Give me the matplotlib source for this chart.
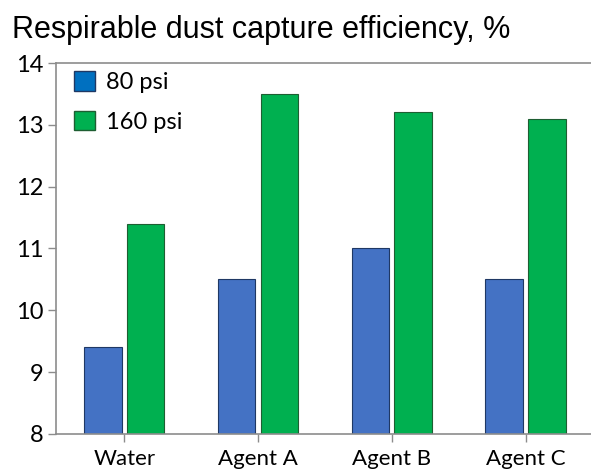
import numpy as np
import matplotlib.pyplot as plt
from matplotlib.patches import Patch

categories = ["Water", "Agent A", "Agent B", "Agent C"]
psi_80 = [9.4, 10.5, 11.0, 10.5]
psi_160 = [11.4, 13.5, 13.2, 13.1]

fig = plt.figure(figsize=(5.91, 4.73), dpi=100)
ax = fig.add_axes([0.0948, 0.0825, 0.91, 0.7843])

x = np.arange(len(categories))
w = 0.28
ax.bar(x - 0.16, psi_80, w, bottom=0, color="#4472C4", edgecolor="#1F3864", linewidth=0.8)
ax.bar(x + 0.16, psi_160, w, bottom=0, color="#00B050", edgecolor="#1E5E32", linewidth=0.8)

ax.set_ylim(8, 14)
ax.set_xlim(-0.51, 3.51)
ax.set_yticks(range(8, 15))
ax.set_xticks(x)
ax.set_xticklabels(categories)

for s in ["left", "bottom", "top"]:
    ax.spines[s].set_color("#8c8c8c")
    ax.spines[s].set_linewidth(1.2)
ax.spines["right"].set_visible(False)
ax.tick_params(axis="both", colors="#8c8c8c", length=6, width=1.0)
for lab in ax.get_xticklabels():
    lab.set_color("black")
    lab.set_fontfamily("Lato")
    lab.set_fontsize(16)
for lab in ax.get_yticklabels():
    lab.set_color("black")
    lab.set_fontfamily("Lato")
    lab.set_fontsize(17)
ax.tick_params(axis="x", pad=5)
ax.tick_params(axis="y", pad=3)

handles = [Patch(facecolor="#0070C0", edgecolor="#1F3864", label="80 psi"),
           Patch(facecolor="#00B050", edgecolor="#1E5E32", label="160 psi")]
ax.legend(handles=handles, loc="upper left", frameon=False,
          bbox_to_anchor=(18 / 538, 1 - 8 / 371),
          prop={"family": "Lato", "size": 17}, handlelength=0.9, handleheight=0.9,
          handletextpad=0.45, labelspacing=0.75, borderpad=0, borderaxespad=0)

fig.text(0.02, 0.937, "Respirable dust capture efficiency, %", fontsize=22,
         family="Liberation Sans", va="center", ha="left")

fig.savefig("out.png", dpi=100)
